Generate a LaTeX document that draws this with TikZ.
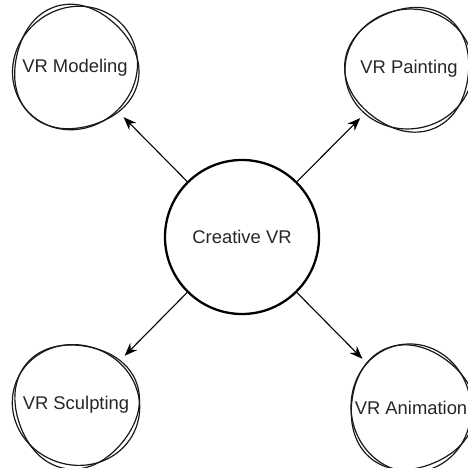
\documentclass[tikz,border=0pt]{standalone}
\usepackage{fontspec}
\setmainfont{Liberation Sans}
\usetikzlibrary{arrows.meta}

\begin{document}
\begin{tikzpicture}[x=1pt, y=1pt, >={Stealth[length=13pt, width=10pt]},
  every node/.style={font=\fontsize{18.4}{22}\selectfont, text=black!85},
  hub/.style={circle, draw, line width=2.3pt, minimum size=154pt, inner sep=0pt},
  topic/.style={circle, minimum size=138pt, inner sep=0pt},
  sketchline/.style={line width=1.2pt, black!90}]
  \useasboundingbox (0,0) rectangle (467,468);
  \node[hub] (creative) at (242,231) {Creative VR};
  \node[topic] (modeling) at (75,400) {VR Modeling};
  \node[topic] (painting) at (409,399) {VR Painting};
  \node[topic] (sculpting) at (76,63) {VR Sculpting};
  \node[topic] (animation) at (411,60) {VR Animation};
  % hand-drawn rings
  \foreach \n/\p/\q in {modeling/10/40, painting/70/200, sculpting/130/300, animation/250/20} {
    \draw[sketchline, shift={(\n.center)}] plot[smooth cycle, domain=0:350, samples=36]
      (\x:{62*(1+0.035*sin(2*\x+\p))});
    \draw[sketchline, shift={(\n.center)}] plot[smooth cycle, domain=5:355, samples=36]
      (\x:{62*(1+0.04*cos(3*\x+\q))});
  }
  \draw[->, line width=1.1pt] (creative) -- (modeling);
  \draw[->, line width=1.1pt] (creative) -- (painting);
  \draw[->, line width=1.1pt] (creative) -- (sculpting);
  \draw[->, line width=1.1pt] (creative) -- (animation);
\end{tikzpicture}
\end{document}
